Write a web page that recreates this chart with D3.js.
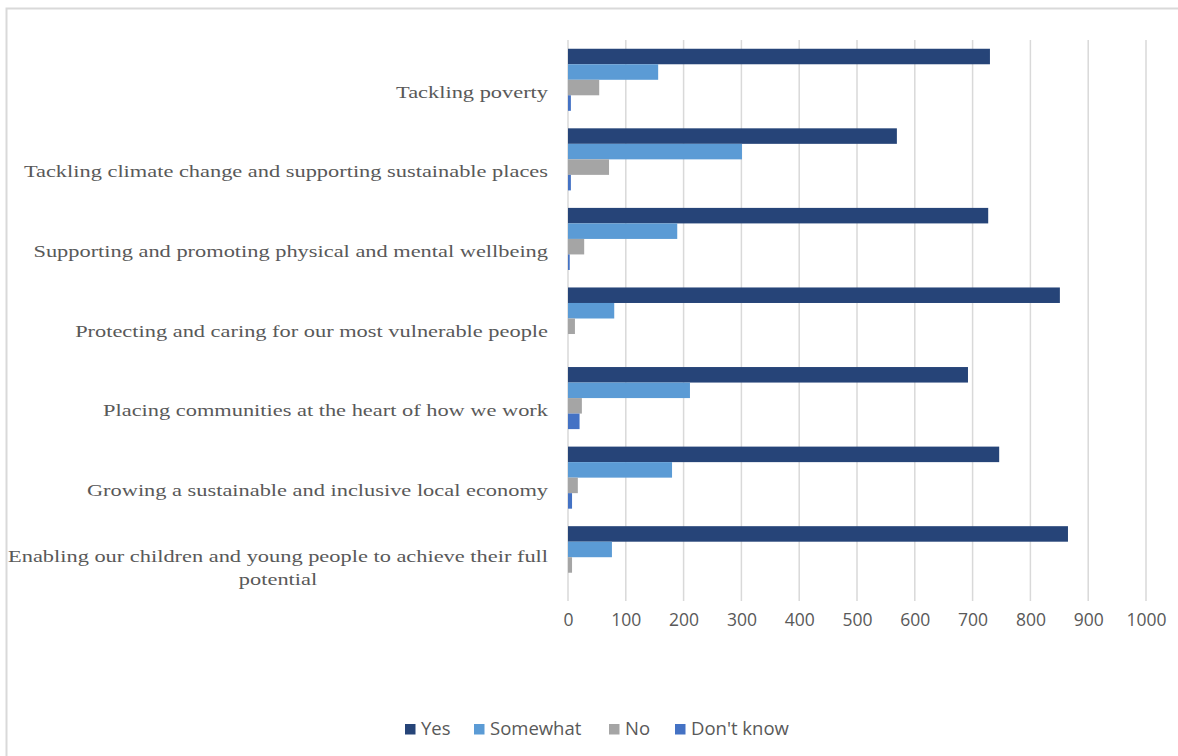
<!DOCTYPE html>
<meta charset="utf-8">
<style>
body { margin: 0; background: #fff; }
.tick text { font-family: "Open Sans", "Liberation Sans", sans-serif; }
</style>
<svg width="1178" height="756"></svg>
<script src="https://d3js.org/d3.v7.min.js"></script>
<script>

// categories, top to bottom as they appear
var categories = [
  "Tackling poverty",
  "Tackling climate change and supporting sustainable places",
  "Supporting and promoting physical and mental wellbeing",
  "Protecting and caring for our most vulnerable people",
  "Placing communities at the heart of how we work",
  "Growing a sustainable and inclusive local economy",
  "Enabling our children and young people to achieve their full potential"
];

var seriesNames = ["Yes", "Somewhat", "No", "Don't know"];

var yesValues       = [730, 569, 727, 851, 692, 746, 865];
var somewhatValues  = [156, 301, 189, 80, 211, 180, 76];
var noValues        = [54, 71, 28, 12, 24, 17, 7];
var dontKnowValues  = [5, 5, 3, 0, 20, 7, 0];

var tickValues = [0, 100, 200, 300, 400, 500, 600, 700, 800, 900, 1000];

var colors = ["#264478", "#5b9bd5", "#a5a5a5", "#4472c4"];

var seriesValues = [yesValues, somewhatValues, noValues, dontKnowValues];

var svg = d3.select("svg");

// chart frame
svg.append("path")
    .attr("d", "M6.5,760V8.5H1178")
    .attr("fill", "none")
    .attr("stroke", "#d9d9d9")
    .attr("stroke-width", 2);

var x = d3.scaleLinear()
    .domain([0, 1000])
    .range([568, 1146]);

var y = d3.scaleBand()
    .domain(categories)
    .range([40, 597])
    .paddingInner(0.22)
    .paddingOuter(0.11);

var ySub = d3.scaleBand()
    .domain(seriesNames)
    .range([0, y.bandwidth()]);

// gridlines
svg.append("g")
  .selectAll("line")
  .data(tickValues)
  .enter().append("line")
    .attr("x1", d => x(d))
    .attr("x2", d => x(d))
    .attr("y1", 40)
    .attr("y2", 601)
    .attr("stroke", "#d9d9d9")
    .attr("stroke-width", 1.5);

// bars
var rows = [];
categories.forEach(function(c, i) {
  seriesNames.forEach(function(s, j) {
    rows.push({cat: c, series: s, value: seriesValues[j][i], color: colors[j]});
  });
});

svg.append("g")
  .selectAll("rect")
  .data(rows)
  .enter().append("rect")
    .attr("x", x(0))
    .attr("y", d => y(d.cat) + ySub(d.series))
    .attr("width", d => x(d.value) - x(0))
    .attr("height", ySub.bandwidth())
    .attr("fill", d => d.color);

// x axis labels
var xAxis = svg.append("g")
    .attr("transform", "translate(0,601)")
    .call(d3.axisBottom(x).tickValues(tickValues).tickSize(0).tickPadding(13).tickFormat(d3.format("d")));
xAxis.select(".domain").remove();
xAxis.selectAll("text")
    .attr("font-size", 17.5)
    .attr("fill", "#595959");

// category labels (the source font is drawn wide, so stretch it)
var sx = 1.28;
var labels = svg.append("g")
    .attr("transform", "translate(548,0) scale(" + sx + ",1)")
    .attr("font-family", "'Liberation Serif', 'Times New Roman', serif")
    .attr("font-size", 17.5)
    .attr("fill", "#595959");

categories.forEach(function(c) {
  var cy = y(c) + y.bandwidth() / 2 + 12;
  var t = labels.append("text")
      .attr("x", 0)
      .attr("y", cy)
      .attr("dy", "0.35em")
      .attr("text-anchor", "end")
      .text(c);
  if (t.node().getComputedTextLength() * sx > 540) {
    t.remove();
    var words = c.split(" ");
    var first = words.slice(0, -1).join(" "), rest = words[words.length - 1];
    var a = labels.append("text")
        .attr("x", 0)
        .attr("y", cy - 13)
        .attr("dy", "0.35em")
        .attr("text-anchor", "end")
        .text(first);
    var w = a.node().getComputedTextLength();
    labels.append("text")
        .attr("x", -w / 2)
        .attr("y", cy + 10)
        .attr("dy", "0.35em")
        .attr("text-anchor", "middle")
        .text(rest);
  }
});

// legend
var legend = svg.append("g")
    .attr("font-family", "'Open Sans', 'Liberation Sans', sans-serif")
    .attr("font-size", 18.5)
    .attr("fill", "#595959");

var legendX = [405, 474, 609, 675];
seriesNames.forEach(function(s, i) {
  var g = legend.append("g").attr("transform", "translate(" + legendX[i] + ",729)");
  g.append("rect")
      .attr("x", 0)
      .attr("y", -5)
      .attr("width", 10.5)
      .attr("height", 10.5)
      .attr("fill", colors[i]);
  g.append("text")
      .attr("x", 16)
      .attr("dy", "0.35em")
      .text(s);
});

</script>
